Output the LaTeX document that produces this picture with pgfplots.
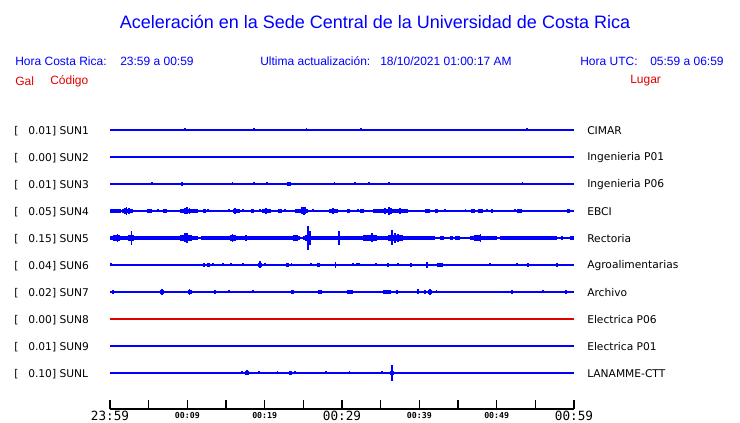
\documentclass[border=0pt]{standalone}
\usepackage{pgfplots}
\pgfplotsset{compat=1.18}
\usepackage{fontspec}
\setmainfont{Liberation Sans}
\newfontfamily\dvs{DejaVu Sans}
\newfontfamily\dvm{DejaVu Sans Mono}
\definecolor{tb}{RGB}{0,0,255}
\definecolor{tr}{RGB}{225,0,0}
\pgfplotsset{
  base/.style={tb, line width=0.9pt},
  blk/.style={tb, line width=3pt, line cap=butt, unbounded coords=jump},
  blkb/.style={tb, line width=5pt, line cap=butt, unbounded coords=jump},
  spk/.style={draw=none, mark=none, error bars/.cd, y dir=both, y explicit, error mark=none, error bar style={draw=tb, line width=0.8pt}},
}
\newcommand{\PP}[2]{({(#1)*0.75pt},{(#2)*0.75pt})}
\newcommand{\lab}[2]{%
  \node[anchor=west, inner sep=0pt, font=\dvs\fontsize{8}{9}\selectfont] at \PP{14}{422-#1} {[};%
  \node[anchor=west, inner sep=0pt, font=\dvs\fontsize{8}{9}\selectfont] at \PP{28}{422-#1} {#2};}
\newcommand{\rlab}[2]{%
  \node[anchor=west, inner sep=0pt, font=\dvs\fontsize{8}{9}\selectfont] at \PP{587}{422-#1} {#2};}
\begin{document}
\begin{tikzpicture}
\useasboundingbox (0,0) rectangle (555pt,317.25pt);
\node[tb, inner sep=0pt, font=\fontsize{13.5}{16}\selectfont] at \PP{375}{401} {Aceleración en la Sede Central de la Universidad de Costa Rica};
\begin{scope}[every node/.style={anchor=west, inner sep=0pt, font=\fontsize{9}{11}\selectfont}]
\node[tb] at \PP{15}{362} {Hora Costa Rica:};
\node[tb] at \PP{120}{362} {23:59 a 00:59};
\node[tb] at \PP{260}{362} {Ultima actualización:};
\node[tb] at \PP{380}{362} {18/10/2021 01:00:17 AM};
\node[tb] at \PP{580}{362} {Hora UTC:};
\node[tb] at \PP{650}{362} {05:59 a 06:59};
\node[tr] at \PP{15}{342} {Gal};
\node[tr] at \PP{50}{342} {Código};
\node[tr] at \PP{630}{342} {Lugar};
\end{scope}
\lab{130}{0.01] SUN1}\rlab{130}{CIMAR}
\lab{157}{0.00] SUN2}\rlab{157}{Ingenieria P01}
\lab{184}{0.01] SUN3}\rlab{184}{Ingenieria P06}
\lab{211}{0.05] SUN4}\rlab{211}{EBCI}
\lab{238}{0.15] SUN5}\rlab{238}{Rectoria}
\lab{265}{0.04] SUN6}\rlab{265}{Agroalimentarias}
\lab{292}{0.02] SUN7}\rlab{292}{Archivo}
\lab{319}{0.00] SUN8}\rlab{319}{Electrica P06}
\lab{346}{0.01] SUN9}\rlab{346}{Electrica P01}
\lab{373}{0.10] SUNL}\rlab{373}{LANAMME-CTT}
\begin{axis}[at={(82.5pt,10.5pt)}, anchor=south west, scale only axis,
  width=348pt, height=220.5pt, xmin=0, xmax=60, ymin=14, ymax=308,
  axis x line*=bottom, axis y line*=left, y axis line style={draw=none},
  ytick=\empty, clip=false,
  xtick={0,5,...,60}, xticklabels={}, tick align=inside,
  major tick length=6.75pt,
  x axis line style={-, black, line width=0.9pt},
  every tick/.style={black, line width=0.9pt}]
% baselines
\addplot[base] coordinates {(0,293) (60,293)};
\addplot[base] coordinates {(0,266) (60,266)};
\addplot[base] coordinates {(0,239) (60,239)};
\addplot[base] coordinates {(0,212) (60,212)};
\addplot[base] coordinates {(0,185) (60,185)};
\addplot[base] coordinates {(0,158) (60,158)};
\addplot[base] coordinates {(0,131) (60,131)};
\addplot[tr, line width=0.9pt] coordinates {(0,104) (60,104)};
\addplot[base] coordinates {(0,77) (60,77)};
\addplot[base] coordinates {(0,50) (60,50)};
% SUN1
\addplot[spk] table[row sep=\\, x=t, y expr=293, y error=a] {t a\\ 9.70 1.5\\ 18.62 1.5\\ 25.47 1.5\\ 32.46 1.5\\ 53.92 1.5\\};
% SUN3
\addplot[spk] table[row sep=\\, x=t, y expr=239, y error=a] {t a\\ 5.43 1.5\\ 9.31 2\\ 15.90 1.5\\ 18.62 1.5\\ 20.30 1.5\\ 23.02 2\\ 23.15 2\\ 23.28 2\\ 29.09 1.5\\ 31.68 1.5\\ 33.49 1.5\\ 36.08 1.5\\ 53.40 1.5\\};
% SUN4
\addplot[blk] coordinates {(0,212) (1.42,212) (1.5,nan) (1.55,212) (2.97,212) (3,nan) (4.78,212) (5.43,212) (5.5,nan) (6.85,212) (7.37,212) (7.4,nan) (9.05,212) (11.38,212) (11.5,nan) (12.03,212) (12.41,212) (12.5,nan) (15.90,212) (16.81,212) (17,nan) (18.23,212) (18.62,212) (18.7,nan) (19.66,212) (20.82,212) (21,nan) (21.72,212) (22.24,212) (22.3,nan) (23.92,212) (25.60,212) (25.7,nan) (28.32,212) (29.48,212) (29.5,nan) (30.65,212) (31.03,212) (31.1,nan) (32.33,212) (32.84,212) (33,nan) (34.01,212) (38.53,212) (38.6,nan) (40.73,212) (41.38,212) (41.5,nan) (42.03,212) (42.41,212) (42.5,nan) (46.68,212) (47.20,212) (47.3,nan) (47.59,212) (48.23,212) (48.3,nan) (49.27,212) (49.53,212) (49.6,nan) (52.63,212) (53.28,212) (53.3,nan) (59.09,212) (59.48,212)};
\addplot[spk] table[row sep=\\, x=t, y expr=212, y error=a] {t a\\ 1.94 3\\ 2.15 4\\ 2.46 3\\ 6.21 1.5\\ 7.11 1.5\\ 9.70 3\\ 9.96 3.5\\ 10.34 3\\ 12.67 1.5\\ 15.39 1.5\\ 16.16 3\\ 17.20 1.5\\ 19.40 1.5\\ 20.17 3\\ 22.63 1.5\\ 24.83 3.5\\ 25.09 4.3\\ 25.34 3.5\\ 26.25 1.5\\ 28.84 3\\ 32.07 1.5\\ 35.56 3\\ 36.08 3.7\\ 36.34 3\\ 37.50 3\\ 43.32 1.5\\ 46.03 1.5\\ 48.75 1.5\\ 52.37 1.5\\};
% SUN5
\addplot[blk] coordinates {(0,185) (11.4,185) (11.6,nan) (11.8,185) (24.6,185) (24.8,nan) (25.0,185) (42.03,185) (42.1,nan) (42.67,185) (43.19,185) (43.3,nan) (43.97,185) (44.35,185) (44.4,nan) (44.61,185) (45.26,185) (45.3,nan) (46.55,185) (50.04,185) (50.1,nan) (50.43,185) (57.80,185) (57.9,nan) (58.35,185) (58.55,185) (58.6,nan) (59.48,185) (60,185)};
\addplot[blkb] coordinates {(0.39,185) (1.29,185) (1.3,nan) (2.33,185) (3.10,185) (3.2,nan) (9.05,185) (10.60,185) (10.7,nan) (15.52,185) (16.29,185) (16.3,nan) (23.66,185) (24.31,185) (24.4,nan) (25.21,185) (25.99,185) (26,nan) (32.72,185) (34.53,185) (34.6,nan) (35.95,185) (37.89,185) (37.9,nan) (47.07,185) (47.85,185)};
\addplot[spk] table[row sep=\\, x=t, y expr=185, y error=a] {t a\\ 1.03 4\\ 2.72 7\\ 2.84 5\\ 9.70 4.5\\ 9.96 5\\ 15.90 4\\ 17.59 3\\ 25.60 12\\ 25.86 7\\ 29.61 7\\ 33.23 3\\ 33.88 4.5\\ 36.47 7.5\\ 36.85 5\\ 37.24 4\\ 47.85 4\\};
% SUN6
\addplot[blk] coordinates {(12.03,158) (12.28,158) (12.3,nan) (12.54,158) (12.93,158) (13,nan) (19.14,158) (19.66,158) (19.7,nan) (22.76,158) (23.15,158) (23.2,nan) (26.77,158) (27.16,158) (27.2,nan) (35.82,158) (36.08,158) (36.1,nan) (38.79,158) (39.05,158) (39.1,nan) (42.28,158) (43.06,158) (43.1,nan) (53.92,158) (54.18,158) (54.2,nan) (57.67,158) (57.93,158)};
\addplot[spk] table[row sep=\\, x=t, y expr=158, y error=a] {t a\\ 0.13 1.5\\ 13.32 1.5\\ 14.61 1.5\\ 15.65 1.5\\ 17.20 1.5\\ 19.40 3.5\\ 20.04 1.5\\ 23.53 1.5\\ 25.99 1.5\\ 29.22 3\\ 31.42 1.5\\ 31.94 1.5\\ 32.20 1.5\\ 34.40 1.5\\ 37.24 1.5\\ 40.99 3\\ 49.14 1.5\\ 52.63 1.5\\};
% SUN7
\addplot[blk] coordinates {(0.26,131) (0.52,131) (0.6,nan) (6.47,131) (6.98,131) (7,nan) (10.09,131) (10.60,131) (10.7,nan) (13.45,131) (13.71,131) (13.8,nan) (26.90,131) (27.42,131) (27.5,nan) (30.65,131) (31.42,131) (31.5,nan) (35.30,131) (36.34,131) (36.4,nan) (36.98,131) (37.24,131) (37.3,nan) (41.12,131) (41.64,131) (41.7,nan) (51.85,131) (52.11,131) (52.2,nan) (58.84,131) (59.09,131)};
\addplot[spk] table[row sep=\\, x=t, y expr=131, y error=a] {t a\\ 6.72 3\\ 10.34 3\\ 15.39 1.5\\ 18.49 1.5\\ 23.41 2\\ 23.66 2\\ 39.83 2.5\\ 40.73 2\\ 41.38 3\\ 42.28 1.5\\ 55.99 1.5\\};
% SUNL
\addplot[blk] coordinates {(17.46,50) (17.97,50) (18,nan) (23.15,50) (23.53,50) (23.6,nan) (36.21,50) (36.73,50)};
\addplot[spk] table[row sep=\\, x=t, y expr=50, y error=a] {t a\\ 17.07 1.5\\ 17.72 2.5\\ 19.27 1.5\\ 21.72 1.5\\ 23.92 1.5\\ 27.93 1.5\\ 31.03 1.5\\ 35.17 1.5\\ 36.47 8\\ 42.28 1\\ 45.39 1\\};
\end{axis}
\begin{scope}[every node/.style={inner sep=0pt}]
\node[font=\dvm\fontsize{9.5}{10}\selectfont] at \PP{110}{7} {23:59};
\node[font=\dvm\bfseries\fontsize{6.2}{7}\selectfont] at \PP{187.3}{7} {00:09};
\node[font=\dvm\bfseries\fontsize{6.2}{7}\selectfont] at \PP{264.7}{7} {00:19};
\node[font=\dvm\fontsize{9.5}{10}\selectfont] at \PP{342}{7} {00:29};
\node[font=\dvm\bfseries\fontsize{6.2}{7}\selectfont] at \PP{419.3}{7} {00:39};
\node[font=\dvm\bfseries\fontsize{6.2}{7}\selectfont] at \PP{496.7}{7} {00:49};
\node[font=\dvm\fontsize{9.5}{10}\selectfont] at \PP{574}{7} {00:59};
\end{scope}
\end{tikzpicture}
\end{document}
